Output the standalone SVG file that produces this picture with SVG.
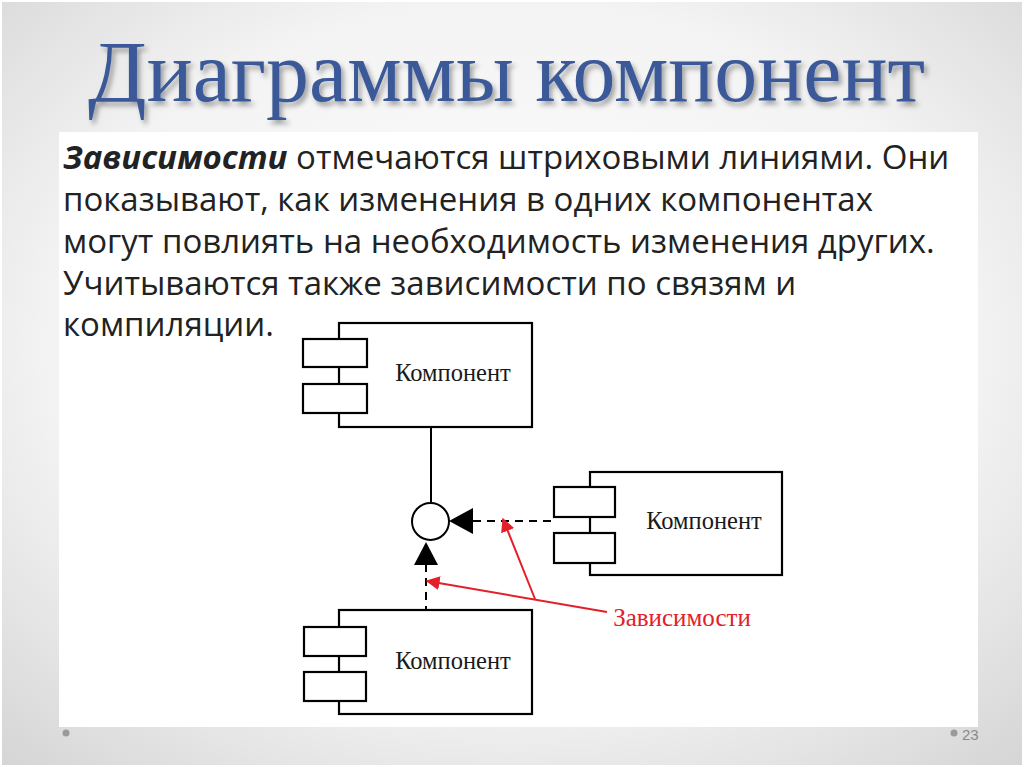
<svg xmlns="http://www.w3.org/2000/svg" width="1024" height="767" viewBox="0 0 1024 767">
<defs>
<radialGradient id="bg" cx="0.5" cy="0.45" r="0.75">
<stop offset="0" stop-color="#ffffff"/>
<stop offset="0.6" stop-color="#f3f3f3"/>
<stop offset="1" stop-color="#d4d4d4"/>
</radialGradient>
<filter id="sh" x="-5%" y="-20%" width="110%" height="150%">
<feDropShadow dx="3" dy="4" stdDeviation="2.5" flood-color="#000" flood-opacity="0.35"/>
</filter>
<marker id="red" viewBox="0 0 10 10" refX="9" refY="5" markerWidth="14" markerHeight="14" markerUnits="userSpaceOnUse" orient="auto">
<path d="M0,0 L10,5 L0,10 Z" fill="#e3202a"/>
</marker>
</defs>
<style>
.box{fill:#fff;stroke:#000;stroke-width:2.2}
.lbl{font-family:"Liberation Serif",serif;font-size:24.5px;fill:#1a1a1a;text-anchor:middle}
.body{font-family:"Open Sans","Noto Sans",sans-serif;font-size:33px;fill:#222}
.dash{stroke:#000;stroke-width:2;stroke-dasharray:8 6;fill:none}
.redl{stroke:#e3202a;stroke-width:2;fill:none}
</style>
<rect x="0" y="0" width="1024" height="767" fill="url(#bg)"/>
<rect x="1" y="1" width="1022" height="765" fill="none" stroke="#ffffff" stroke-width="2"/>
<text x="88" y="101" font-family="Liberation Serif,serif" font-size="86" fill="#3a5998" filter="url(#sh)" textLength="837" lengthAdjust="spacingAndGlyphs">Диаграммы компонент</text>
<rect x="59" y="132" width="919" height="595" fill="#ffffff"/>
<g id="text" class="body">
<text x="63" y="169"><tspan font-weight="bold" font-style="italic">Зависимости</tspan> отмечаются штриховыми линиями. Они</text>
<text x="63" y="211">показывают, как изменения в одних компонентах</text>
<text x="63" y="253">могут повлиять на необходимость изменения других.</text>
<text x="63" y="295">Учитываются также зависимости по связям и</text>
<text x="63" y="336">компиляции.</text>
</g>
<g id="connectors">
<line x1="431" y1="427" x2="431" y2="503" stroke="#000" stroke-width="2"/>
<line x1="473" y1="521" x2="554" y2="521" class="dash"/>
<path d="M449,521 L473,508 L473,534 Z" fill="#000"/>
<line x1="426" y1="564" x2="426" y2="610" class="dash"/>
<path d="M426,542 L414,565 L438,565 Z" fill="#000"/>
</g>
<g id="component1">
<rect x="339" y="323" width="193" height="104" class="box"/>
<rect x="303" y="339" width="64" height="28" class="box"/>
<rect x="303" y="384" width="64" height="29" class="box"/>
<text x="453" y="381" class="lbl">Компонент</text>
</g>
<g id="interface">
<circle cx="430.5" cy="521.5" r="18.5" fill="#fff" stroke="#000" stroke-width="2"/>
</g>
<g id="component2">
<rect x="590" y="472" width="192" height="103" class="box"/>
<rect x="554" y="487" width="61" height="30" class="box"/>
<rect x="554" y="533" width="61" height="30" class="box"/>
<text x="704" y="529" class="lbl">Компонент</text>
</g>
<g id="component3">
<rect x="339" y="610" width="193" height="104" class="box"/>
<rect x="304" y="627" width="62" height="29" class="box"/>
<rect x="304" y="672" width="62" height="29" class="box"/>
<text x="453" y="669" class="lbl">Компонент</text>
</g>
<g id="red-annotation">
<line x1="607" y1="612" x2="427" y2="581" class="redl" marker-end="url(#red)"/>
<line x1="535" y1="599" x2="503" y2="519" class="redl" marker-end="url(#red)"/>
<text x="682" y="626" font-family="Liberation Serif,serif" font-size="25" fill="#e3202a" text-anchor="middle">Зависимости</text>
</g>
<g id="footer">
<circle cx="66" cy="733" r="3.5" fill="#9a9a9a"/>
<circle cx="954" cy="733" r="3.5" fill="#9a9a9a"/>
<text x="962" y="740" font-family="Liberation Sans,sans-serif" font-size="15" fill="#8a8a8a">23</text>
</g>
</svg>
